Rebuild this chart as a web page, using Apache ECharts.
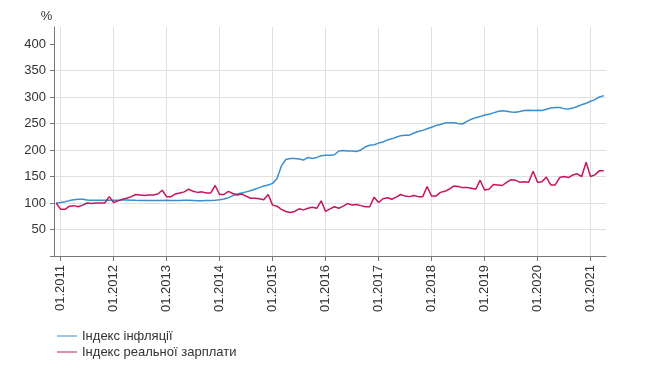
<!DOCTYPE html>
<html><head><meta charset="utf-8">
<script src="https://cdn.jsdelivr.net/npm/echarts@6/dist/echarts.min.js"></script>
<style>html,body{margin:0;padding:0;background:#fff}#c{width:646px;height:380px}</style>
</head><body><div id="c"></div>
<script>
// Monthly categories: 12.2010 .. 04.2021
const firstYear = 2010, firstMonth = 12, monthCount = 125;
const categories = [];
for (let i = 0; i < monthCount; i++) {
  const m0 = firstMonth - 1 + i;
  const y = firstYear + Math.floor(m0 / 12);
  const m = (m0 % 12) + 1;
  categories.push((m < 10 ? '0' : '') + m + '.' + y);
}

const yTickValues = [0, 50, 100, 150, 200, 250, 300, 350, 400];
const yLabelValues = [50, 100, 150, 200, 250, 300, 350, 400];

const seriesNames = ['Індекс інфляції', 'Індекс реальної зарплати'];

const inflation = [
  100,
  101, 102.5, 104.5, 106, 107, 107, 105.5, 105, 105, 105, 105, 105,
  105.2, 105.4, 105.6, 105.6, 105.3, 105, 104.8, 104.6, 104.7, 104.7, 104.6, 104.8,
  105, 104.9, 104.9, 104.9, 105, 105, 104.9, 104.4, 104.4, 104.7, 104.9, 105.3,
  106, 107.5, 110, 114, 117, 119, 121, 123, 126, 129, 132, 134,
  137, 146, 170, 182, 184, 184, 183, 181, 186, 184, 186, 189,
  190, 190, 191, 198, 199, 198, 198, 197, 200, 206, 209, 210,
  213, 215, 219, 221, 224, 227, 228, 228, 232, 235, 237, 240,
  243, 246, 248, 251, 251.5, 251.5, 250, 249, 254, 258, 261, 263,
  266, 267.5, 270, 272.5, 274, 273, 271.5, 271, 272.5, 274.5, 275, 274.5,
  275, 274.5, 277, 279, 280, 280, 278, 277.5, 279, 282, 285.5, 288,
  292, 295, 300, 302.5
];

const realWage = [
  100,
  88, 88, 94, 95, 93, 96, 100, 99, 100, 100, 100, 112,
  101, 104, 107, 109, 112, 116, 115, 114, 115, 115, 117, 124,
  112, 112, 117, 119, 121, 126, 122, 120, 121, 119, 119, 133,
  116, 116, 122, 118, 115, 117, 113, 109, 109, 108, 106, 116,
  96, 94, 88, 84, 82, 84, 89, 87, 90, 92, 90, 104,
  84, 89, 93, 90, 94, 99, 96, 97, 95, 93, 93, 111,
  101, 108, 110, 107, 111, 116, 113, 112, 114, 112, 112, 131,
  113, 113, 120, 122, 126, 132, 131, 129, 129, 128, 126, 143,
  124.5, 126, 135, 134, 133, 139, 144, 143, 139, 140, 139, 160,
  139, 140, 149, 134, 134, 148, 150, 148, 153, 155, 150, 177,
  150, 153, 161, 161
];

const isJan = (idx, val) => String(val).indexOf('01.') === 0;
const FONT = 'Liberation Sans, Arial, sans-serif';

const chart = echarts.init(document.getElementById('c'), null, {renderer: 'canvas'});
chart.setOption({
  animation: false,
  grid: {left: 54, right: 40, top: 27, bottom: 124, containLabel: false},
  legend: {
    orient: 'vertical', left: 57, top: 328, padding: 0,
    itemWidth: 20, itemHeight: 1, itemGap: 0, icon: 'rect',
    textStyle: {fontFamily: FONT, fontSize: 13, color: '#333', lineHeight: 16},
    data: seriesNames
  },
  xAxis: {
    type: 'category',
    data: categories,
    boundaryGap: true,
    axisLine: {lineStyle: {color: '#777', width: 1}},
    axisTick: {show: true, interval: isJan, alignWithLabel: true, length: 5, lineStyle: {color: '#777'}},
    axisLabel: {interval: isJan, rotate: 90, margin: 9, fontFamily: FONT, fontSize: 13, color: '#333'},
    splitLine: {show: true, interval: isJan, alignWithLabel: true, lineStyle: {color: '#e0e0e0', width: 1}}
  },
  yAxis: {
    type: 'value', min: 0, max: 432, interval: 50,
    name: '%', nameLocation: 'end', nameGap: 4,
    nameTextStyle: {fontFamily: FONT, fontSize: 13, color: '#333', align: 'center', padding: [0, 15, 0, 0]},
    axisLine: {show: true, lineStyle: {color: '#777', width: 1}},
    axisTick: {show: true, length: 4, customValues: yTickValues, lineStyle: {color: '#777'}},
    axisLabel: {customValues: yLabelValues, margin: 8, fontFamily: FONT, fontSize: 13, color: '#333'},
    splitLine: {show: true, showMaxLine: false, lineStyle: {color: '#e0e0e0', width: 1}}
  },
  series: [
    {name: seriesNames[0], type: 'line', data: inflation, showSymbol: false, symbol: 'none',
     color: '#3a8fd1', lineStyle: {width: 1.5, color: '#3a8fd1'}},
    {name: seriesNames[1], type: 'line', data: realWage, showSymbol: false, symbol: 'none',
     color: '#c8145f', lineStyle: {width: 1.5, color: '#c8145f'}}
  ]
});
</script></body></html>
